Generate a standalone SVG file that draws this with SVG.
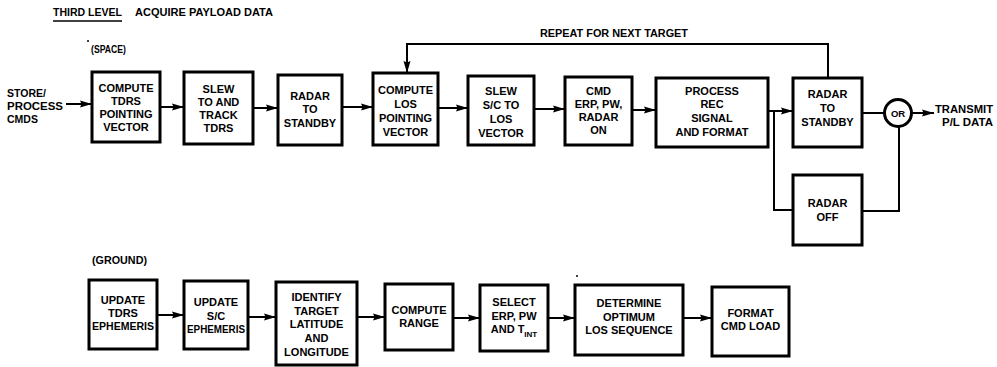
<svg xmlns="http://www.w3.org/2000/svg" width="997" height="367" viewBox="0 0 997 367">
<style>
.box{fill:#fff;stroke:#000;stroke-width:3}
.t{font-family:"Liberation Sans",Arial,sans-serif;font-weight:bold;font-size:11px;text-anchor:middle;fill:#000}
.l{font-family:"Liberation Sans",Arial,sans-serif;font-weight:bold;font-size:10.5px;fill:#000}
.c{fill:none;stroke:#000;stroke-width:2}
</style>
<defs>
<marker id="ah" markerUnits="userSpaceOnUse" markerWidth="13" markerHeight="9" refX="12" refY="4" orient="auto">
<path d="M0,0.5 L12,4 L0,7.5 L1.5,4 z" fill="#000"/>
</marker>
</defs>
<rect width="997" height="367" fill="#fff"/>

<g id="labels">
<text class="l" x="53" y="16" textLength="69" lengthAdjust="spacingAndGlyphs">THIRD LEVEL</text>
<line x1="53" y1="21" x2="122" y2="21" stroke="#000" stroke-width="1.5"/>
<text class="l" x="135" y="16" textLength="138" lengthAdjust="spacingAndGlyphs">ACQUIRE PAYLOAD DATA</text>
<circle cx="88" cy="41" r="1" fill="#000"/>
<text class="l" x="91" y="53" textLength="35" lengthAdjust="spacingAndGlyphs">(SPACE)</text>
<text class="l" x="92" y="264" textLength="55" lengthAdjust="spacingAndGlyphs">(GROUND)</text>
<circle cx="577" cy="276" r="1" fill="#000"/>
<text class="l" x="7" y="97">STORE/</text>
<text class="l" x="7" y="110" textLength="56" lengthAdjust="spacingAndGlyphs">PROCESS</text>
<text class="l" x="7" y="123">CMDS</text>
<text class="l" x="540" y="37" textLength="148" lengthAdjust="spacingAndGlyphs">REPEAT FOR NEXT TARGET</text>
<text class="l" x="935" y="113" textLength="58" lengthAdjust="spacingAndGlyphs">TRANSMIT</text>
<text class="l" x="942" y="126" textLength="51" lengthAdjust="spacingAndGlyphs">P/L DATA</text>
</g>

<g id="connectors">
<line class="c" x1="66" y1="104" x2="92" y2="104" marker-end="url(#ah)"/>
<line class="c" x1="160" y1="107" x2="184" y2="107" marker-end="url(#ah)"/>
<line class="c" x1="253" y1="108" x2="278" y2="108" marker-end="url(#ah)"/>
<line class="c" x1="342" y1="107" x2="373" y2="107" marker-end="url(#ah)"/>
<line class="c" x1="438" y1="108" x2="468" y2="108" marker-end="url(#ah)"/>
<line class="c" x1="534" y1="109" x2="565" y2="109" marker-end="url(#ah)"/>
<line class="c" x1="632" y1="110" x2="656" y2="110" marker-end="url(#ah)"/>
<line class="c" x1="768" y1="111" x2="793" y2="111" marker-end="url(#ah)"/>
<polyline class="c" points="828,78 828,44 407,44 407,73" marker-end="url(#ah)"/>
<line class="c" x1="862" y1="113" x2="884" y2="113"/>
<line class="c" x1="912" y1="113" x2="934" y2="113" marker-end="url(#ah)"/>
<polyline class="c" points="774,111 774,210 793,210"/>
<polyline class="c" points="862,211 899,211 899,127"/>
<line class="c" x1="157" y1="315" x2="184" y2="315" marker-end="url(#ah)"/>
<line class="c" x1="248" y1="317" x2="276" y2="317" marker-end="url(#ah)"/>
<line class="c" x1="357" y1="317" x2="385" y2="317" marker-end="url(#ah)"/>
<line class="c" x1="453" y1="318" x2="480" y2="318" marker-end="url(#ah)"/>
<line class="c" x1="548" y1="318" x2="575" y2="318" marker-end="url(#ah)"/>
<line class="c" x1="683" y1="318" x2="712" y2="318" marker-end="url(#ah)"/>
</g>

<g id="b1"><rect class="box" x="92" y="72" width="68" height="70"/>
<text class="t" x="126" y="92">COMPUTE</text><text class="t" x="126" y="105">TDRS</text><text class="t" x="126" y="118">POINTING</text><text class="t" x="126" y="131">VECTOR</text></g>
<g id="b2"><rect class="box" x="184" y="72" width="69" height="72"/>
<text class="t" x="218.5" y="93">SLEW</text><text class="t" x="218.5" y="106">TO AND</text><text class="t" x="218.5" y="119">TRACK</text><text class="t" x="218.5" y="132">TDRS</text></g>
<g id="b3"><rect class="box" x="278" y="75" width="64" height="70"/>
<text class="t" x="310" y="99.5">RADAR</text><text class="t" x="310" y="113">TO</text><text class="t" x="310" y="126.5">STANDBY</text></g>
<g id="b4"><rect class="box" x="373" y="73" width="65" height="72"/>
<text class="t" x="405.5" y="94">COMPUTE</text><text class="t" x="405.5" y="108">LOS</text><text class="t" x="405.5" y="122">POINTING</text><text class="t" x="405.5" y="136">VECTOR</text></g>
<g id="b5"><rect class="box" x="468" y="76" width="66" height="69"/>
<text class="t" x="501" y="95">SLEW</text><text class="t" x="501" y="109">S/C TO</text><text class="t" x="501" y="123">LOS</text><text class="t" x="501" y="137">VECTOR</text></g>
<g id="b6"><rect class="box" x="565" y="77" width="67" height="68"/>
<text class="t" x="598.5" y="95">CMD</text><text class="t" x="598.5" y="108">ERP, PW,</text><text class="t" x="598.5" y="121">RADAR</text><text class="t" x="598.5" y="134">ON</text></g>
<g id="b7"><rect class="box" x="656" y="78" width="112" height="69"/>
<text class="t" x="712" y="95">PROCESS</text><text class="t" x="712" y="108">REC</text><text class="t" x="712" y="122">SIGNAL</text><text class="t" x="712" y="136">AND FORMAT</text></g>
<g id="b8"><rect class="box" x="793" y="78" width="69" height="69"/>
<text class="t" x="827.5" y="98">RADAR</text><text class="t" x="827.5" y="112">TO</text><text class="t" x="827.5" y="126">STANDBY</text></g>
<g id="b9"><rect class="box" x="793" y="175" width="69" height="70"/>
<text class="t" x="827.5" y="207">RADAR</text><text class="t" x="827.5" y="221">OFF</text></g>
<g id="or"><circle cx="898" cy="113" r="13.5" fill="#fff" stroke="#000" stroke-width="3"/>
<text class="t" x="898" y="116.5" style="font-size:9.5px">OR</text></g>

<g id="g1"><rect class="box" x="89" y="280" width="68" height="69"/>
<text class="t" x="123" y="304">UPDATE</text><text class="t" x="123" y="317">TDRS</text><text class="t" x="123" y="330" textLength="62" lengthAdjust="spacingAndGlyphs">EPHEMERIS</text></g>
<g id="g2"><rect class="box" x="184" y="281" width="64" height="68"/>
<text class="t" x="216" y="306">UPDATE</text><text class="t" x="216" y="320">S/C</text><text class="t" x="216" y="333" textLength="58" lengthAdjust="spacingAndGlyphs">EPHEMERIS</text></g>
<g id="g3"><rect class="box" x="276" y="282" width="81" height="83"/>
<text class="t" x="316.5" y="301">IDENTIFY</text><text class="t" x="316.5" y="314.5">TARGET</text><text class="t" x="316.5" y="328">LATITUDE</text><text class="t" x="316.5" y="342">AND</text><text class="t" x="316.5" y="356">LONGITUDE</text></g>
<g id="g4"><rect class="box" x="385" y="284" width="68" height="66"/>
<text class="t" x="419" y="314">COMPUTE</text><text class="t" x="419" y="327">RANGE</text></g>
<g id="g5"><rect class="box" x="480" y="285" width="68" height="66"/>
<text class="t" x="514" y="306">SELECT</text><text class="t" x="514" y="320">ERP, PW</text><text class="t" x="514" y="333">AND T<tspan dy="4" style="font-size:8px">INT</tspan></text></g>
<g id="g6"><rect class="box" x="575" y="285" width="108" height="70"/>
<text class="t" x="629" y="307">DETERMINE</text><text class="t" x="629" y="321">OPTIMUM</text><text class="t" x="629" y="334">LOS SEQUENCE</text></g>
<g id="g7"><rect class="box" x="712" y="287" width="77" height="69"/>
<text class="t" x="750.5" y="317">FORMAT</text><text class="t" x="750.5" y="330">CMD LOAD</text></g>
</svg>
